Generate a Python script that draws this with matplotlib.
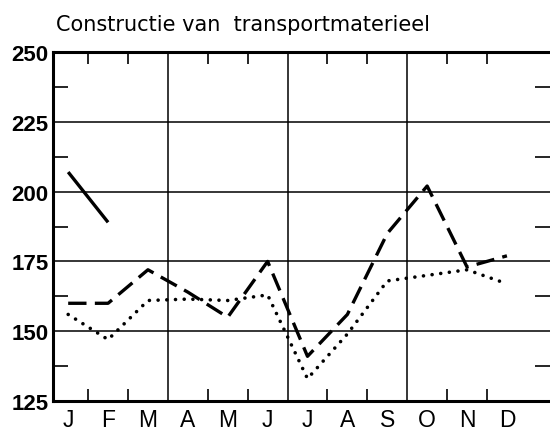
import matplotlib
matplotlib.use("Agg")
import matplotlib.pyplot as plt

maanden = ["J", "F", "M", "A", "M", "J", "J", "A", "S", "O", "N", "D"]
# drie reeksen
reeks_vast = [207, 189]                     # alleen jan-feb, doorgetrokken lijn
reeks_streep = [160, 160, 172, 164, 155, 175, 141, 156, 185, 202, 173, 177]
reeks_punt = [156, 147, 161, 161.5, 161, 163, 133, 149, 168, 170, 172, 167]

plt.rcParams['font.family'] = ['Liberation Sans', 'DejaVu Sans']

fig = plt.figure(figsize=(5.5, 4.31), dpi=100)
ax = fig.add_axes([0.0964, 0.0673, 0.9036, 0.8097])

x = list(range(len(maanden)))

# rasterlijnen
for v in [150, 175, 200, 225]:
    ax.axhline(v, color="black", lw=1.1, zorder=1)
for v in [2.5, 5.5, 8.5]:
    ax.axvline(v, color="black", lw=1.1, zorder=1)

ax.plot(x[:len(reeks_vast)], reeks_vast, color="black", lw=2.4,
        solid_capstyle="butt", zorder=3)
ax.plot(x, reeks_streep, color="black", lw=2.4, dashes=(5.5, 2.5),
        dash_capstyle="butt", zorder=3)
ax.plot(x, reeks_punt, color="black", lw=2.6, linestyle=(0, (0.01, 2.4)),
        dash_capstyle="round", zorder=3)

ax.set_xlim(-0.38, 12.08)
ax.set_ylim(125, 250)

ax.set_xticks(x)
ax.set_xticklabels(maanden, fontsize=16.5)
ax.set_yticks([125, 150, 175, 200, 225, 250])
ax.set_yticklabels(["125", "150", "175", "200", "225", "250"],
                   fontsize=16, fontweight="bold")
ax.tick_params(axis="x", which="major", length=0, pad=5)
ax.tick_params(axis="y", which="major", length=0, pad=3)

ax.set_xticks([0.5, 1.5, 3.5, 4.5, 6.5, 7.5, 9.5, 10.5], minor=True)
ax.set_yticks([137.5, 162.5, 187.5, 212.5, 237.5], minor=True)
ax.tick_params(axis="x", which="minor", direction="in", length=8.5, width=1.2,
               top=True, bottom=True)
ax.tick_params(axis="y", which="minor", direction="in", length=11, width=1.2,
               left=True, right=True)

for s in ["left", "top", "bottom"]:
    ax.spines[s].set_linewidth(2.2)
ax.spines["right"].set_visible(False)

fig.text(0.102, 0.942, "Constructie van  transportmaterieel", fontsize=15,
         family=["DejaVu Sans"], va="center", ha="left")

fig.savefig("out.png", dpi=100)
